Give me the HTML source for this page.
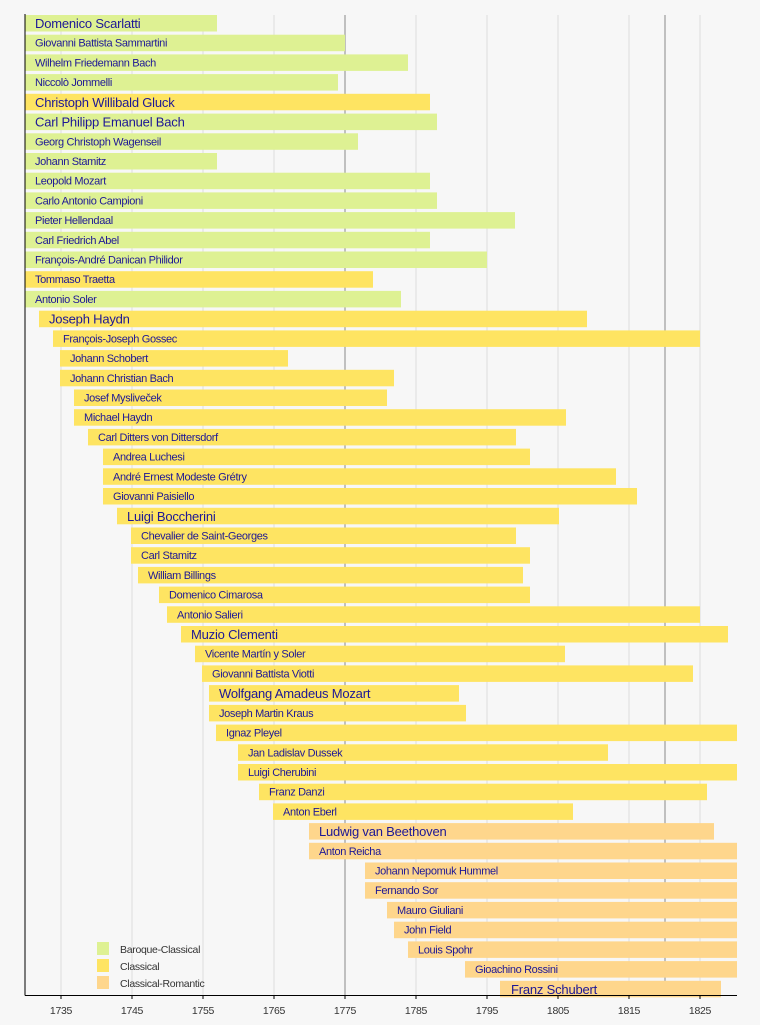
<!DOCTYPE html>
<html><head><meta charset="utf-8"><style>
html,body{margin:0;padding:0;background:#f7f7f7;}
svg{display:block;}
text{font-family:"Liberation Sans",Arial,sans-serif;}
.s{font-size:11px;fill:#1d1796;letter-spacing:-0.35px;}
.b{font-size:13px;fill:#1d1796;letter-spacing:-0.2px;}
.bc{fill:#def193;}.c{fill:#fee462;}.cr{fill:#fed68c;}
.t{font-size:10.5px;fill:#333;letter-spacing:-0.3px;}
</style></head><body>
<svg width="760" height="1025" viewBox="0 0 760 1025">
<rect width="760" height="1025" fill="#f7f7f7"/>
<g stroke="#dcdcdc" stroke-width="1">
<line x1="61" y1="15" x2="61" y2="995"/><line x1="132" y1="15" x2="132" y2="995"/><line x1="203" y1="15" x2="203" y2="995"/><line x1="274" y1="15" x2="274" y2="995"/><line x1="416" y1="15" x2="416" y2="995"/><line x1="487" y1="15" x2="487" y2="995"/><line x1="558" y1="15" x2="558" y2="995"/><line x1="629" y1="15" x2="629" y2="995"/><line x1="700" y1="15" x2="700" y2="995"/>
</g>
<g stroke="#8a8a8a" stroke-width="1"><line x1="345" y1="15" x2="345" y2="995"/><line x1="665" y1="15" x2="665" y2="995"/></g>
<g>
<g transform="translate(0,23)"><rect class="bc" x="25" y="-8" width="192" height="16.5"/><text class="b" x="35" y="5">Domenico Scarlatti</text></g>
<g transform="translate(0,42.7)"><rect class="bc" x="25" y="-8" width="320" height="16.5"/><text class="s" x="35" y="4">Giovanni Battista Sammartini</text></g>
<g transform="translate(0,62.4)"><rect class="bc" x="25" y="-8" width="383" height="16.5"/><text class="s" x="35" y="4">Wilhelm Friedemann Bach</text></g>
<g transform="translate(0,82.1)"><rect class="bc" x="25" y="-8" width="313" height="16.5"/><text class="s" x="35" y="4">Niccolò Jommelli</text></g>
<g transform="translate(0,101.8)"><rect class="c" x="25" y="-8" width="405" height="16.5"/><text class="b" x="35" y="5">Christoph Willibald Gluck</text></g>
<g transform="translate(0,121.6)"><rect class="bc" x="25" y="-8" width="412" height="16.5"/><text class="b" x="35" y="5">Carl Philipp Emanuel Bach</text></g>
<g transform="translate(0,141.3)"><rect class="bc" x="25" y="-8" width="333" height="16.5"/><text class="s" x="35" y="4">Georg Christoph Wagenseil</text></g>
<g transform="translate(0,161)"><rect class="bc" x="25" y="-8" width="192" height="16.5"/><text class="s" x="35" y="4">Johann Stamitz</text></g>
<g transform="translate(0,180.7)"><rect class="bc" x="25" y="-8" width="405" height="16.5"/><text class="s" x="35" y="4">Leopold Mozart</text></g>
<g transform="translate(0,200.4)"><rect class="bc" x="25" y="-8" width="412" height="16.5"/><text class="s" x="35" y="4">Carlo Antonio Campioni</text></g>
<g transform="translate(0,220.1)"><rect class="bc" x="25" y="-8" width="490" height="16.5"/><text class="s" x="35" y="4">Pieter Hellendaal</text></g>
<g transform="translate(0,239.8)"><rect class="bc" x="25" y="-8" width="405" height="16.5"/><text class="s" x="35" y="4">Carl Friedrich Abel</text></g>
<g transform="translate(0,259.5)"><rect class="bc" x="25" y="-8" width="462" height="16.5"/><text class="s" x="35" y="4">François-André Danican Philidor</text></g>
<g transform="translate(0,279.2)"><rect class="c" x="25" y="-8" width="348" height="16.5"/><text class="s" x="35" y="4">Tommaso Traetta</text></g>
<g transform="translate(0,298.9)"><rect class="bc" x="25" y="-8" width="376" height="16.5"/><text class="s" x="35" y="4">Antonio Soler</text></g>
<g transform="translate(0,318.7)"><rect class="c" x="39" y="-8" width="548" height="16.5"/><text class="b" x="49" y="5">Joseph Haydn</text></g>
<g transform="translate(0,338.4)"><rect class="c" x="53" y="-8" width="647" height="16.5"/><text class="s" x="63" y="4">François-Joseph Gossec</text></g>
<g transform="translate(0,358.1)"><rect class="c" x="60" y="-8" width="228" height="16.5"/><text class="s" x="70" y="4">Johann Schobert</text></g>
<g transform="translate(0,377.8)"><rect class="c" x="60" y="-8" width="334" height="16.5"/><text class="s" x="70" y="4">Johann Christian Bach</text></g>
<g transform="translate(0,397.5)"><rect class="c" x="74" y="-8" width="313" height="16.5"/><text class="s" x="84" y="4">Josef Mysliveček</text></g>
<g transform="translate(0,417.2)"><rect class="c" x="74" y="-8" width="492" height="16.5"/><text class="s" x="84" y="4">Michael Haydn</text></g>
<g transform="translate(0,436.9)"><rect class="c" x="88" y="-8" width="428" height="16.5"/><text class="s" x="98" y="4">Carl Ditters von Dittersdorf</text></g>
<g transform="translate(0,456.6)"><rect class="c" x="103" y="-8" width="427" height="16.5"/><text class="s" x="113" y="4">Andrea Luchesi</text></g>
<g transform="translate(0,476.3)"><rect class="c" x="103" y="-8" width="513" height="16.5"/><text class="s" x="113" y="4">André Ernest Modeste Grétry</text></g>
<g transform="translate(0,496)"><rect class="c" x="103" y="-8" width="534" height="16.5"/><text class="s" x="113" y="4">Giovanni Paisiello</text></g>
<g transform="translate(0,515.8)"><rect class="c" x="117" y="-8" width="442" height="16.5"/><text class="b" x="127" y="5">Luigi Boccherini</text></g>
<g transform="translate(0,535.5)"><rect class="c" x="131" y="-8" width="385" height="16.5"/><text class="s" x="141" y="4">Chevalier de Saint-Georges</text></g>
<g transform="translate(0,555.2)"><rect class="c" x="131" y="-8" width="399" height="16.5"/><text class="s" x="141" y="4">Carl Stamitz</text></g>
<g transform="translate(0,574.9)"><rect class="c" x="138" y="-8" width="385" height="16.5"/><text class="s" x="148" y="4">William Billings</text></g>
<g transform="translate(0,594.6)"><rect class="c" x="159" y="-8" width="371" height="16.5"/><text class="s" x="169" y="4">Domenico Cimarosa</text></g>
<g transform="translate(0,614.3)"><rect class="c" x="167" y="-8" width="533" height="16.5"/><text class="s" x="177" y="4">Antonio Salieri</text></g>
<g transform="translate(0,634)"><rect class="c" x="181" y="-8" width="547" height="16.5"/><text class="b" x="191" y="5">Muzio Clementi</text></g>
<g transform="translate(0,653.7)"><rect class="c" x="195" y="-8" width="370" height="16.5"/><text class="s" x="205" y="4">Vicente Martín y Soler</text></g>
<g transform="translate(0,673.4)"><rect class="c" x="202" y="-8" width="491" height="16.5"/><text class="s" x="212" y="4">Giovanni Battista Viotti</text></g>
<g transform="translate(0,693.1)"><rect class="c" x="209" y="-8" width="250" height="16.5"/><text class="b" x="219" y="5">Wolfgang Amadeus Mozart</text></g>
<g transform="translate(0,712.9)"><rect class="c" x="209" y="-8" width="257" height="16.5"/><text class="s" x="219" y="4">Joseph Martin Kraus</text></g>
<g transform="translate(0,732.6)"><rect class="c" x="216" y="-8" width="521" height="16.5"/><text class="s" x="226" y="4">Ignaz Pleyel</text></g>
<g transform="translate(0,752.3)"><rect class="c" x="238" y="-8" width="370" height="16.5"/><text class="s" x="248" y="4">Jan Ladislav Dussek</text></g>
<g transform="translate(0,772)"><rect class="c" x="238" y="-8" width="499" height="16.5"/><text class="s" x="248" y="4">Luigi Cherubini</text></g>
<g transform="translate(0,791.7)"><rect class="c" x="259" y="-8" width="448" height="16.5"/><text class="s" x="269" y="4">Franz Danzi</text></g>
<g transform="translate(0,811.4)"><rect class="c" x="273" y="-8" width="300" height="16.5"/><text class="s" x="283" y="4">Anton Eberl</text></g>
<g transform="translate(0,831.1)"><rect class="cr" x="309" y="-8" width="405" height="16.5"/><text class="b" x="319" y="5">Ludwig van Beethoven</text></g>
<g transform="translate(0,850.8)"><rect class="cr" x="309" y="-8" width="428" height="16.5"/><text class="s" x="319" y="4">Anton Reicha</text></g>
<g transform="translate(0,870.5)"><rect class="cr" x="365" y="-8" width="372" height="16.5"/><text class="s" x="375" y="4">Johann Nepomuk Hummel</text></g>
<g transform="translate(0,890.2)"><rect class="cr" x="365" y="-8" width="372" height="16.5"/><text class="s" x="375" y="4">Fernando Sor</text></g>
<g transform="translate(0,909.9)"><rect class="cr" x="387" y="-8" width="350" height="16.5"/><text class="s" x="397" y="4">Mauro Giuliani</text></g>
<g transform="translate(0,929.7)"><rect class="cr" x="394" y="-8" width="343" height="16.5"/><text class="s" x="404" y="4">John Field</text></g>
<g transform="translate(0,949.4)"><rect class="cr" x="408" y="-8" width="329" height="16.5"/><text class="s" x="418" y="4">Louis Spohr</text></g>
<g transform="translate(0,969.1)"><rect class="cr" x="465" y="-8" width="272" height="16.5"/><text class="s" x="475" y="4">Gioachino Rossini</text></g>
<g transform="translate(0,988.8)"><rect class="cr" x="500" y="-8" width="221" height="16.5"/><text class="b" x="511" y="5">Franz Schubert</text></g>
</g>
<rect class="bc" x="97" y="942" width="12" height="13"/>
<rect class="c" x="97" y="959" width="12" height="13"/>
<rect class="cr" x="97" y="976" width="12" height="13"/>
<text class="t" x="120" y="953">Baroque-Classical</text>
<text class="t" x="120" y="970">Classical</text>
<text class="t" x="120" y="987">Classical-Romantic</text>
<line x1="25" y1="14" x2="25" y2="995.5" stroke="#000" stroke-width="1"/>
<line x1="25" y1="995.5" x2="737" y2="995.5" stroke="#000" stroke-width="1"/>
<g stroke="#000"><line x1="61" y1="995" x2="61" y2="999"/><line x1="132" y1="995" x2="132" y2="999"/><line x1="203" y1="995" x2="203" y2="999"/><line x1="274" y1="995" x2="274" y2="999"/><line x1="345" y1="995" x2="345" y2="999"/><line x1="416" y1="995" x2="416" y2="999"/><line x1="487" y1="995" x2="487" y2="999"/><line x1="558" y1="995" x2="558" y2="999"/><line x1="629" y1="995" x2="629" y2="999"/><line x1="700" y1="995" x2="700" y2="999"/></g>
<g text-anchor="middle">
<text class="t" x="61" y="1014">1735</text><text class="t" x="132" y="1014">1745</text><text class="t" x="203" y="1014">1755</text><text class="t" x="274" y="1014">1765</text><text class="t" x="345" y="1014">1775</text><text class="t" x="416" y="1014">1785</text><text class="t" x="487" y="1014">1795</text><text class="t" x="558" y="1014">1805</text><text class="t" x="629" y="1014">1815</text><text class="t" x="700" y="1014">1825</text>
</g>
</svg>
</body></html>
